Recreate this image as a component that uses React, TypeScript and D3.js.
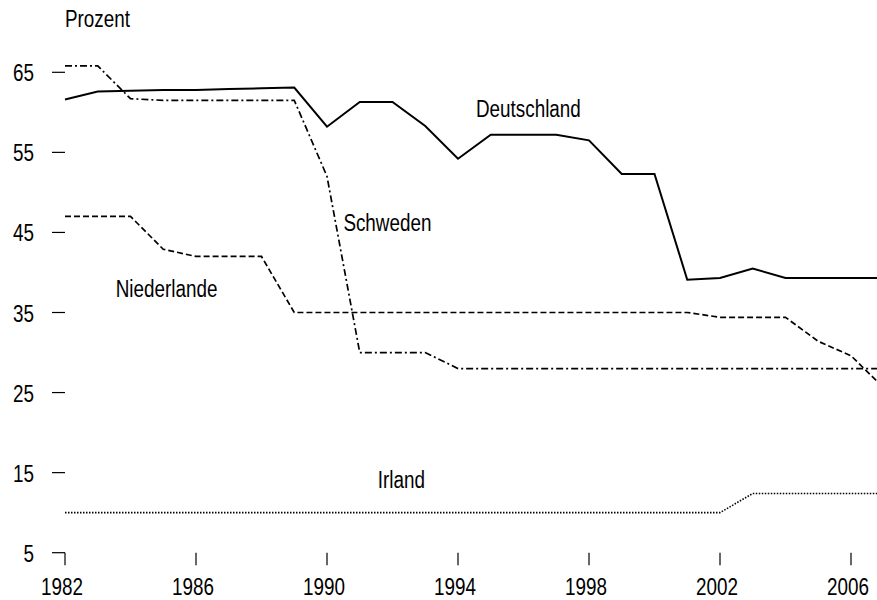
import React, { useEffect, useRef } from "react";
import * as d3 from "d3";

const years = [
  1982, 1983, 1984, 1985, 1986, 1987, 1988, 1989, 1990, 1991, 1992, 1993, 1994,
  1995, 1996, 1997, 1998, 1999, 2000, 2001, 2002, 2003, 2004, 2005, 2006, 2007,
];

const deutschland = [
  61.6, 62.6, 62.7, 62.8, 62.8, 62.9, 63.0, 63.1, 58.2, 61.3, 61.3, 58.3, 54.2,
  57.2, 57.2, 57.2, 56.5, 52.3, 52.3, 39.1, 39.3, 40.5, 39.3, 39.3, 39.3, 39.3,
];
const schweden = [
  65.8, 65.8, 61.7, 61.5, 61.5, 61.5, 61.5, 61.5, 52.0, 30.0, 30.0, 30.0, 28.0,
  28.0, 28.0, 28.0, 28.0, 28.0, 28.0, 28.0, 28.0, 28.0, 28.0, 28.0, 28.0, 28.0,
];
const niederlande = [
  47.0, 47.0, 47.0, 42.9, 42.0, 42.0, 42.0, 35.0, 35.0, 35.0, 35.0, 35.0, 35.0,
  35.0, 35.0, 35.0, 35.0, 35.0, 35.0, 35.0, 34.4, 34.4, 34.4, 31.4, 29.6, 25.6,
];
const irland = [
  10.0, 10.0, 10.0, 10.0, 10.0, 10.0, 10.0, 10.0, 10.0, 10.0, 10.0, 10.0, 10.0,
  10.0, 10.0, 10.0, 10.0, 10.0, 10.0, 10.0, 10.0, 12.4, 12.4, 12.4, 12.4, 12.4,
];

const yTicks = [5, 15, 25, 35, 45, 55, 65];
const xTicks = [1982, 1986, 1990, 1994, 1998, 2002, 2006];

// label anchors in data units (year, percent)
const labels = [
  { name: "Deutschland", year: 1994.55, value: 59.4 },
  { name: "Schweden", year: 1990.5, value: 45.2 },
  { name: "Niederlande", year: 1983.55, value: 36.95 },
  { name: "Irland", year: 1991.55, value: 13.1 },
];

// no narrow font installed: squeeze Liberation Sans horizontally instead
const FONT = "'Liberation Sans', Arial, sans-serif";
const FS = 23;
const SQUEEZE = 0.82;

export default function App() {
  const ref = useRef<SVGSVGElement>(null);

  useEffect(() => {
    const width = 877;
    const height = 600;
    const svg = d3.select(ref.current);
    svg.selectAll("*").remove();
    svg.attr("width", width).attr("height", height);

    const x = d3.scaleLinear().domain([1982, 2007]).range([65, 883.75]);
    const y = d3.scaleLinear().domain([5, 65]).range([552.7, 72.3]);

    const series = [
      { values: deutschland, dash: null, w: 2 },
      { values: schweden, dash: "7,3,2,3", w: 1.7 },
      { values: niederlande, dash: "6,3", w: 1.7 },
      { values: irland, dash: "1.5,1.5", w: 1.6 },
    ];

    const line = d3
      .line<number>()
      .x((d, i) => x(years[i]))
      .y((d) => y(d));

    series.forEach((s) => {
      svg
        .append("path")
        .attr("d", line(s.values))
        .attr("fill", "none")
        .attr("stroke", "#000")
        .attr("stroke-width", s.w)
        .attr("stroke-linejoin", "miter")
        .attr("stroke-dasharray", s.dash);
    });

    const addText = (
      px: number,
      py: number,
      txt: string | number,
      anchor = "start"
    ) =>
      svg
        .append("text")
        .attr("transform", `translate(${px},${py}) scale(${SQUEEZE},1)`)
        .attr("text-anchor", anchor)
        .attr("font-family", FONT)
        .attr("font-size", FS)
        .attr("fill", "#000")
        .text(txt);

    // y ticks
    yTicks.forEach((t) => {
      svg
        .append("line")
        .attr("x1", 52)
        .attr("x2", x(1982))
        .attr("y1", y(t))
        .attr("y2", y(t))
        .attr("stroke", "#000")
        .attr("stroke-width", 1.2);
      addText(34, y(t) + 9, t, "end");
    });

    // x ticks
    xTicks.forEach((t) => {
      svg
        .append("line")
        .attr("x1", x(t))
        .attr("x2", x(t))
        .attr("y1", y(5))
        .attr("y2", y(5) + 12.5)
        .attr("stroke", "#000")
        .attr("stroke-width", 1.2);
      addText(x(t) - 3, 595, t, "middle");
    });

    addText(65, 27, "Prozent");

    labels.forEach((l) => addText(x(l.year), y(l.value), l.name));
  }, []);

  return (
    <svg
      ref={ref}
      style={{ position: "absolute", left: 0, top: 0, background: "#fff" }}
    />
  );
}
